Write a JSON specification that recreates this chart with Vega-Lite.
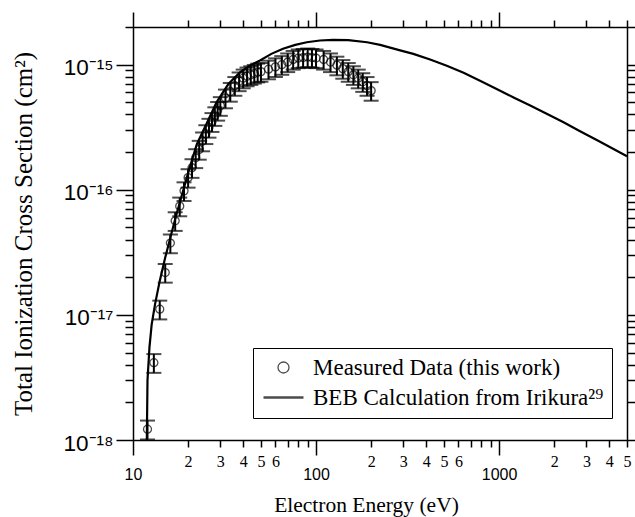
{
 "$schema": "https://vega.github.io/schema/vega-lite/v6.json",
 "width": 494,
 "height": 413,
 "autosize": {"type": "none"},
 "padding": {"left": 133, "top": 27, "right": 8, "bottom": 77},
 "background": "white",
 "datasets": {
  "meas": [
   {"E": 12, "s": 1.22e-18, "lo": 1.01e-18, "hi": 1.43e-18},
   {"E": 13, "s": 4.15e-18, "lo": 3.44e-18, "hi": 4.86e-18},
   {"E": 14, "s": 1.11e-17, "lo": 9.2e-18, "hi": 1.30e-17},
   {"E": 15, "s": 2.18e-17, "lo": 1.81e-17, "hi": 2.55e-17},
   {"E": 16, "s": 3.75e-17, "lo": 3.11e-17, "hi": 4.39e-17},
   {"E": 17, "s": 5.65e-17, "lo": 4.69e-17, "hi": 6.61e-17},
   {"E": 18, "s": 7.4e-17, "lo": 6.14e-17, "hi": 8.66e-17},
   {"E": 19, "s": 9.8e-17, "lo": 8.13e-17, "hi": 1.147e-16},
   {"E": 20, "s": 1.25e-16, "lo": 1.04e-16, "hi": 1.46e-16},
   {"E": 21, "s": 1.5e-16, "lo": 1.245e-16, "hi": 1.755e-16},
   {"E": 22, "s": 1.8e-16, "lo": 1.49e-16, "hi": 2.11e-16},
   {"E": 23, "s": 2.1e-16, "lo": 1.74e-16, "hi": 2.46e-16},
   {"E": 24, "s": 2.45e-16, "lo": 2.03e-16, "hi": 2.87e-16},
   {"E": 25, "s": 2.8e-16, "lo": 2.32e-16, "hi": 3.28e-16},
   {"E": 26, "s": 3.15e-16, "lo": 2.61e-16, "hi": 3.69e-16},
   {"E": 27, "s": 3.5e-16, "lo": 2.9e-16, "hi": 4.1e-16},
   {"E": 28, "s": 3.9e-16, "lo": 3.24e-16, "hi": 4.56e-16},
   {"E": 29, "s": 4.3e-16, "lo": 3.57e-16, "hi": 5.03e-16},
   {"E": 30, "s": 4.7e-16, "lo": 3.9e-16, "hi": 5.5e-16},
   {"E": 32, "s": 5.4e-16, "lo": 4.48e-16, "hi": 6.32e-16},
   {"E": 34, "s": 6.1e-16, "lo": 5.06e-16, "hi": 7.14e-16},
   {"E": 36, "s": 6.8e-16, "lo": 5.64e-16, "hi": 7.96e-16},
   {"E": 38, "s": 7.4e-16, "lo": 6.14e-16, "hi": 8.66e-16},
   {"E": 40, "s": 7.8e-16, "lo": 6.47e-16, "hi": 9.13e-16},
   {"E": 42, "s": 8.1e-16, "lo": 6.72e-16, "hi": 9.48e-16},
   {"E": 44, "s": 8.3e-16, "lo": 6.89e-16, "hi": 9.71e-16},
   {"E": 46, "s": 8.5e-16, "lo": 7.06e-16, "hi": 9.95e-16},
   {"E": 48, "s": 8.7e-16, "lo": 7.22e-16, "hi": 1.018e-15},
   {"E": 50, "s": 8.8e-16, "lo": 7.3e-16, "hi": 1.03e-15},
   {"E": 55, "s": 9.2e-16, "lo": 7.64e-16, "hi": 1.076e-15},
   {"E": 60, "s": 9.6e-16, "lo": 7.97e-16, "hi": 1.123e-15},
   {"E": 65, "s": 1.0e-15, "lo": 8.3e-16, "hi": 1.17e-15},
   {"E": 70, "s": 1.05e-15, "lo": 8.72e-16, "hi": 1.229e-15},
   {"E": 75, "s": 1.1e-15, "lo": 9.13e-16, "hi": 1.287e-15},
   {"E": 80, "s": 1.13e-15, "lo": 9.38e-16, "hi": 1.322e-15},
   {"E": 85, "s": 1.14e-15, "lo": 9.46e-16, "hi": 1.334e-15},
   {"E": 90, "s": 1.15e-15, "lo": 9.55e-16, "hi": 1.346e-15},
   {"E": 95, "s": 1.14e-15, "lo": 9.46e-16, "hi": 1.334e-15},
   {"E": 100, "s": 1.13e-15, "lo": 9.38e-16, "hi": 1.322e-15},
   {"E": 110, "s": 1.1e-15, "lo": 9.13e-16, "hi": 1.287e-15},
   {"E": 120, "s": 1.05e-15, "lo": 8.72e-16, "hi": 1.229e-15},
   {"E": 130, "s": 9.9e-16, "lo": 8.22e-16, "hi": 1.158e-15},
   {"E": 140, "s": 9.3e-16, "lo": 7.72e-16, "hi": 1.088e-15},
   {"E": 150, "s": 8.8e-16, "lo": 7.3e-16, "hi": 1.03e-15},
   {"E": 160, "s": 8.3e-16, "lo": 6.89e-16, "hi": 9.71e-16},
   {"E": 170, "s": 7.8e-16, "lo": 6.47e-16, "hi": 9.13e-16},
   {"E": 180, "s": 7.3e-16, "lo": 6.06e-16, "hi": 8.54e-16},
   {"E": 190, "s": 6.8e-16, "lo": 5.64e-16, "hi": 7.96e-16},
   {"E": 200, "s": 6.2e-16, "lo": 5.15e-16, "hi": 7.25e-16}
  ],
  "beb": [
   {"E": 11.9, "v": 1.0e-18},
   {"E": 12.0, "v": 3.0e-18},
   {"E": 12.3, "v": 5.5e-18},
   {"E": 12.65, "v": 8.4e-18},
   {"E": 13.2, "v": 1.22e-17},
   {"E": 14.0, "v": 1.87e-17},
   {"E": 15.0, "v": 2.87e-17},
   {"E": 16.0, "v": 4.15e-17},
   {"E": 17.3, "v": 6.4e-17},
   {"E": 18.7, "v": 9.6e-17},
   {"E": 20, "v": 1.36e-16},
   {"E": 22.3, "v": 2.3e-16},
   {"E": 25.3, "v": 3.4e-16},
   {"E": 28.6, "v": 5.0e-16},
   {"E": 33.2, "v": 7.0e-16},
   {"E": 38.5, "v": 8.7e-16},
   {"E": 44, "v": 9.9e-16},
   {"E": 49.4, "v": 1.08e-15},
   {"E": 57, "v": 1.22e-15},
   {"E": 66, "v": 1.34e-15},
   {"E": 77, "v": 1.44e-15},
   {"E": 89, "v": 1.51e-15},
   {"E": 105, "v": 1.56e-15},
   {"E": 124, "v": 1.58e-15},
   {"E": 150, "v": 1.57e-15},
   {"E": 190, "v": 1.51e-15},
   {"E": 224, "v": 1.44e-15},
   {"E": 288, "v": 1.30e-15},
   {"E": 340, "v": 1.22e-15},
   {"E": 420, "v": 1.10e-15},
   {"E": 518, "v": 9.8e-16},
   {"E": 640, "v": 8.6e-16},
   {"E": 787, "v": 7.45e-16},
   {"E": 970, "v": 6.4e-16},
   {"E": 1200, "v": 5.47e-16},
   {"E": 1480, "v": 4.72e-16},
   {"E": 1820, "v": 4.05e-16},
   {"E": 2250, "v": 3.47e-16},
   {"E": 2770, "v": 2.94e-16},
   {"E": 3500, "v": 2.45e-16},
   {"E": 5000, "v": 1.85e-16}
  ]
 },
 "layer": [
  {
   "data": {"name": "beb"},
   "mark": {"type": "line", "color": "black", "strokeWidth": 2.2, "clip": true},
   "encoding": {
    "x": {"field": "E", "type": "quantitative",
     "scale": {"type": "log", "domain": [10, 5000], "nice": false},
     "axis": {"orient": "bottom", "title": "Electron Energy (eV)", "titleX": 233,
      "values": [10,20,30,40,50,60,70,80,90,100,200,300,400,500,600,700,800,900,1000,2000,3000,4000,5000],
      "labelExpr": "indexof([10,100,1000], datum.value) >= 0 ? format(datum.value,'d') : (toNumber(substring(format(datum.value,'d'),0,1)) > 6 ? '' : substring(format(datum.value,'d'),0,1))",
      "tickSize": {"condition": {"test": "indexof([10,100,1000], datum.value) >= 0", "value": 15}, "value": 7},
      "labelFont": {"condition": {"test": "indexof([10,100,1000], datum.value) >= 0", "value": "Liberation Sans"}, "value": "Liberation Serif"},
      "labelFontSize": 16,
      "labelPadding": {"condition": {"test": "indexof([10,100,1000], datum.value) >= 0", "value": 11}, "value": 6},
      "titleFont": "Liberation Serif", "titleFontSize": 21.5, "titleFontWeight": "normal", "titlePadding": 12}},
    "y": {"field": "v", "type": "quantitative",
     "scale": {"type": "log", "domain": [1e-18, 2e-15], "nice": false},
     "axis": {"orient": "left", "title": "Total Ionization Cross Section (cm²)",
      "values": [1e-18,2e-18,3e-18,4e-18,5e-18,6e-18,7e-18,8e-18,9e-18,1e-17,2e-17,3e-17,4e-17,5e-17,6e-17,7e-17,8e-17,9e-17,1e-16,2e-16,3e-16,4e-16,5e-16,6e-16,7e-16,8e-16,9e-16,1e-15,2e-15],
      "labelExpr": "datum.value == 1e-15 ? '10⁻¹⁵' : datum.value == 1e-16 ? '10⁻¹⁶' : datum.value == 1e-17 ? '10⁻¹⁷' : datum.value == 1e-18 ? '10⁻¹⁸' : ''",
      "tickSize": {"condition": {"test": "datum.value == 1e-15 || datum.value == 1e-16 || datum.value == 1e-17 || datum.value == 1e-18", "value": 17}, "value": 8},
      "labelFont": "Liberation Sans", "labelFontSize": 22.5, "labelPadding": 3, "labelOffset": 3,
      "titleFont": "Liberation Serif", "titleFontSize": 25, "titleFontWeight": "normal", "titlePadding": 26}}
   }
  },
  {
   "data": {"name": "meas"},
   "mark": {"type": "errorbar", "color": "black", "ticks": {"size": 15, "thickness": 2}, "rule": {"strokeWidth": 2}},
   "encoding": {
    "x": {"field": "E", "type": "quantitative", "scale": {"type": "log", "domain": [10, 5000], "nice": false}, "axis": null},
    "y": {"field": "lo", "type": "quantitative", "scale": {"type": "log", "domain": [1e-18, 2e-15], "nice": false}, "axis": null},
    "y2": {"field": "hi"}
   }
  },
  {
   "data": {"name": "meas"},
   "mark": {"type": "point", "filled": false, "color": "black", "size": 211},
   "encoding": {
    "x": {"field": "E", "type": "quantitative",
     "scale": {"type": "log", "domain": [10, 5000], "nice": false},
     "axis": {"orient": "top", "title": null, "labels": false,
      "values": [10,20,30,40,50,60,70,80,90,100,200,300,400,500,600,700,800,900,1000,2000,3000,4000,5000],
      "tickSize": {"condition": {"test": "indexof([10,100,1000], datum.value) >= 0", "value": 15}, "value": 7}}},
    "y": {"field": "s", "type": "quantitative",
     "scale": {"type": "log", "domain": [1e-18, 2e-15], "nice": false},
     "axis": {"orient": "right", "title": null, "labels": false,
      "values": [1e-18,2e-18,3e-18,4e-18,5e-18,6e-18,7e-18,8e-18,9e-18,1e-17,2e-17,3e-17,4e-17,5e-17,6e-17,7e-17,8e-17,9e-17,1e-16,2e-16,3e-16,4e-16,5e-16,6e-16,7e-16,8e-16,9e-16,1e-15,2e-15],
      "tickSize": {"condition": {"test": "datum.value == 1e-15 || datum.value == 1e-16 || datum.value == 1e-17 || datum.value == 1e-18", "value": 17}, "value": 8}}},
    "shape": {"datum": "Measured Data (this work)",
     "scale": {"domain": ["Measured Data (this work)", "BEB Calculation from Irikura²⁹"],
      "range": ["M0.55,0A0.55,0.55,0,1,1,-0.55,0A0.55,0.55,0,1,1,0.55,0Z", "M-2,0H2"]},
     "legend": {"orient": "none", "legendX": 120, "legendY": 321, "title": null,
      "strokeColor": "black", "fillColor": "white", "padding": 8,
      "labelFont": "Liberation Serif", "labelFontSize": 23, "labelColor": "black", "labelLimit": 400,
      "symbolSize": 400, "symbolStrokeColor": "black", "symbolFillColor": "transparent",
      "symbolOffset": 11, "labelOffset": 18, "rowPadding": 6}},
    "strokeWidth": {"datum": "Measured Data (this work)",
     "scale": {"domain": ["Measured Data (this work)", "BEB Calculation from Irikura²⁹"], "range": [1.3, 2.5]},
     "legend": {"orient": "none", "legendX": 120, "legendY": 321, "title": null,
      "strokeColor": "black", "fillColor": "white", "padding": 8,
      "labelFont": "Liberation Serif", "labelFontSize": 23, "labelColor": "black", "labelLimit": 400,
      "symbolSize": 400, "symbolStrokeColor": "black", "symbolFillColor": "transparent",
      "symbolOffset": 11, "labelOffset": 18, "rowPadding": 6}}
   }
  }
 ],
 "resolve": {"axis": {"x": "independent", "y": "independent"}},
 "config": {
  "view": {"stroke": null},
  "axis": {"grid": false, "domainColor": "black", "tickColor": "black", "labelColor": "black", "titleColor": "black",
   "domainWidth": 1.5, "tickWidth": 1.5, "labelOverlap": false, "labelFlush": false, "labelBound": false}
 }
}
